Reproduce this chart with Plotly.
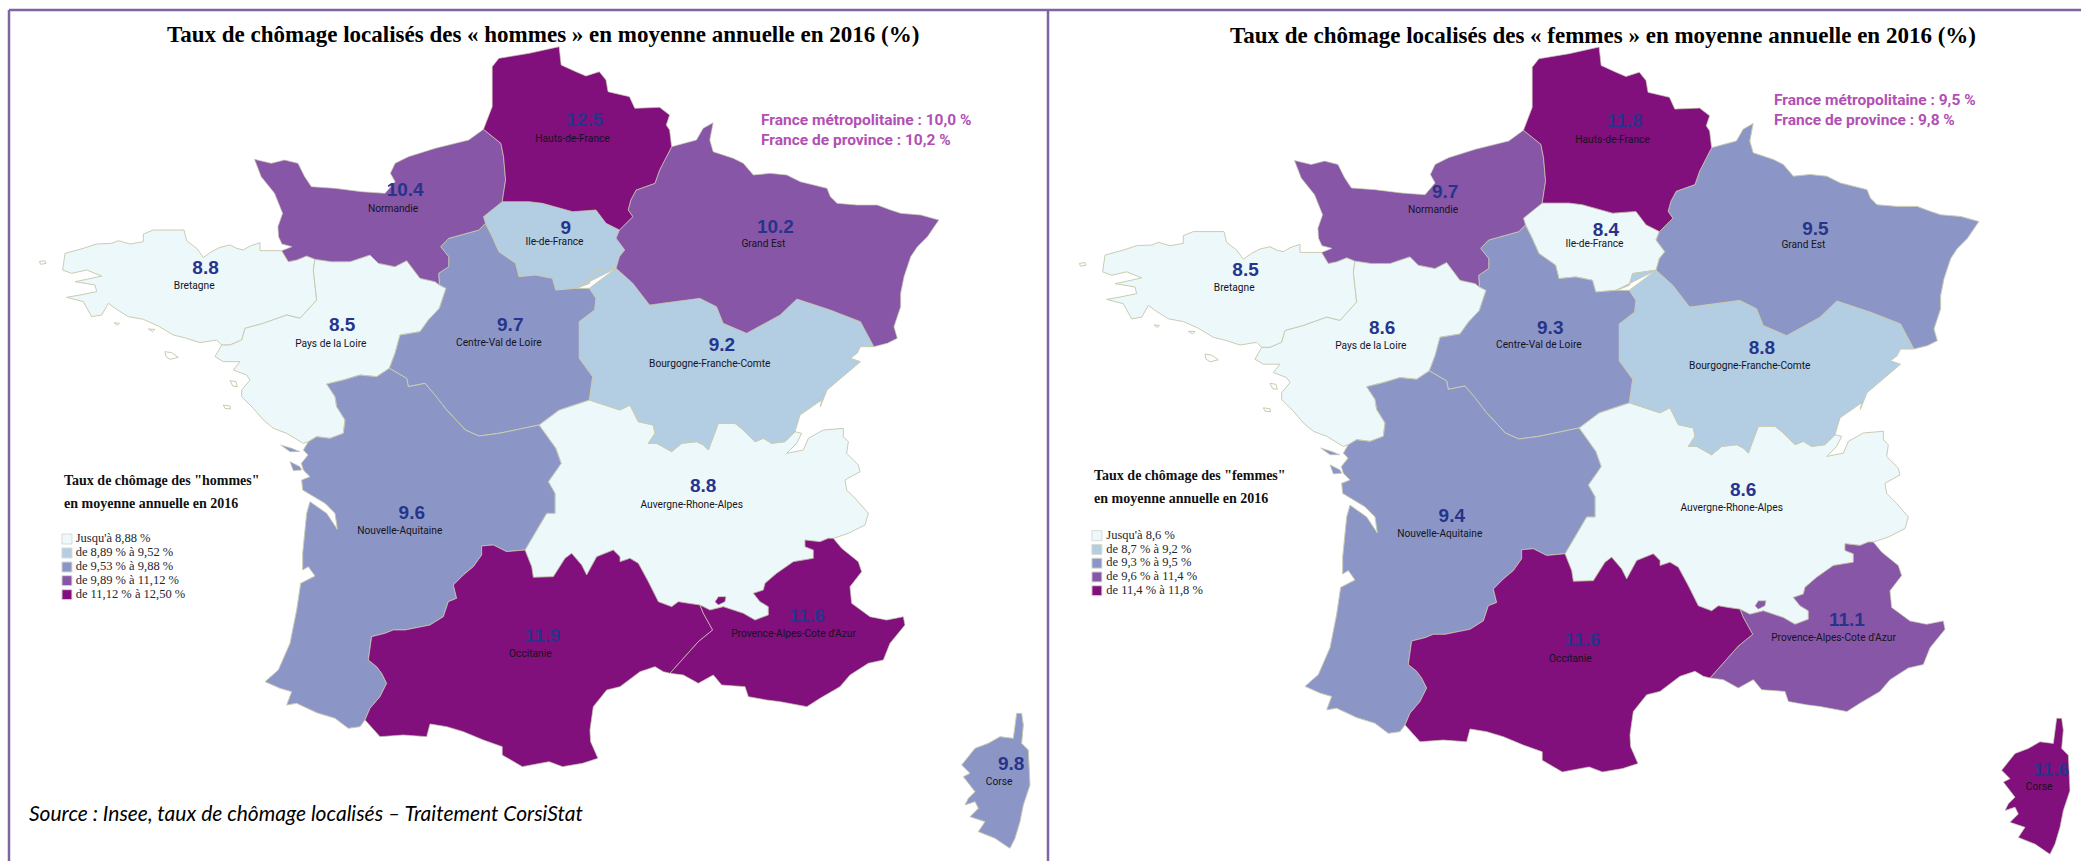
import plotly.graph_objects as go

W, H = 2081, 861
SX, SY = 1568 / 1050, 3.0   # map units per pixel

REGIONS = ["Hauts-de-France", "Normandie", "Ile-de-France", "Grand Est", "Bretagne", "Pays de la Loire",
           "Centre-Val de Loire", "Bourgogne-Franche-Comte", "Nouvelle-Aquitaine", "Auvergne-Rhone-Alpes",
           "Occitanie", "Provence-Alpes-Cote d'Azur", "Corse"]
HOMMES = [12.5, 10.4, 9, 10.2, 8.8, 8.5, 9.7, 9.2, 9.6, 8.8, 11.9, 11.6, 9.8]
FEMMES = [11.8, 9.7, 8.4, 9.5, 8.5, 8.6, 9.3, 8.8, 9.4, 8.6, 11.6, 11.1, 11.6]
HOMMES_CLASS_MAX = [8.88, 9.52, 9.88, 11.12, 12.50]
FEMMES_CLASS_MAX = [8.6, 9.2, 9.5, 11.4, 11.8]
CLASS_COLORS = ["#edf8fb", "#b3cde3", "#8c96c6", "#8856a7", "#810f7c"]
HOMMES_LEGEND = ["Jusqu'à 8,88 %", "de 8,89 % à 9,52 %", "de 9,53 % à 9,88 %", "de 9,89 % à 11,12 %", "de 11,12 % à 12,50 %"]
FEMMES_LEGEND = ["Jusqu'à 8,6 %", "de 8,7 % à 9,2 %", "de 9,3 % à 9,5 %", "de 9,6 % à 11,4 %", "de 11,4 % à 11,8 %"]


def local(pts, ox, oy):
    """Outline traced at 3x around a page origin -> map units."""
    return [((ox + a / 3) * SX, (oy + b / 3) * SY) for a, b in pts]


# ---- shared borders -------------------------------------------------------------
NOR_BRE = local([(755,92),(775,125),(800,120),(830,108),(855,118)], 30, 220)
NOR_PDL = local([(855,118),(905,125),(960,125),(1020,105),(1045,130),(1095,140),(1130,122),(1170,175),(1215,185),(1228,195)], 30, 220)
BRE_COAST = local([(720,92),(690,92),(690,68),(660,78),(640,90),(620,85),(600,75),(570,82),(545,95),(520,112),(500,85),(470,62),(462,30),(435,30),(405,30),(370,30),(340,42),(340,65),(300,72),(265,62),(245,70),(200,72),(160,85),(105,100),(98,150),(125,160),(170,150),(215,168),(170,178),(135,185),(195,195),(200,215),(150,225),(110,232),(160,245),(185,290),(215,285),(235,250),(260,268),(295,290),(340,298),(385,318),(430,345),(470,355),(510,368),(560,360)], 30, 220)
BRE_PDL = local([(575,375),(600,375),(635,360),(645,325),(700,310),(770,285),(810,295),(860,240),(850,150),(855,118)], 30, 220)
PDL_CVL = local([(1228,195),(1248,205),(1228,265),(1195,300),(1170,335),(1110,345),(1095,400),(1078,445)], 30, 220)
PDL_NAQ = local([(1078,445),(1040,470),(990,465),(940,480),(890,492),(915,530),(920,560),(945,600),(940,640),(900,655),(860,650),(835,665)], 30, 220)
PDL_COAST = local([(835,665),(820,670),(770,640),(730,625),(700,600),(670,565),(635,530),(635,510),(660,480),(650,465),(610,450),(630,425),(580,425),(555,410),(575,375)], 30, 220)
CVL_NAQ = local([(1078,445),(1130,475),(1135,500),(1185,490),(1215,525),(1250,570)], 30, 220) + [(695,1290),(715,1308),(745,1300),(770,1290),(805,1275)]
NOR_CVL = [(655,820),(670,800),(670,770),(658,740),(670,715),(715,690),(725,670)]
NAQ_ARA = [(805,1275),(830,1345),(838,1390)] + local([(890,0),(865,35),(885,70),(885,130),(860,130),(825,190),(795,240)], 260, 470)
NAQ_OCC = local([(795,240),(740,245),(700,225),(665,228),(665,255),(640,290),(610,315),(580,345),(590,385),(565,395),(550,440),(510,465),(435,480),(400,480),(375,490),(335,500),(325,570),(350,590),(365,610),(380,640),(360,680),(330,715),(315,750)], 260, 470)
NAQ_COAST = local([(315,750),(300,770),(265,775),(225,745),(170,728),(110,700),(80,705),(95,665),(60,655),(15,635),(55,600),(90,520),(110,420),(122,340),(165,318),(145,290),(128,300),(128,250),(140,130),(150,95),(200,130),(232,178),(225,130),(195,100),(155,75),(128,60),(125,30),(150,20),(130,0)], 260, 470) + [(450,1390),(460,1365),(453,1350)]
OCC_ARA = local([(795,240),(815,290),(820,322),(880,320),(915,265),(935,250),(965,285),(980,315),(1010,260),(1060,240),(1080,260)], 260, 470) + local([(0,485),(30,475),(55,490),(85,545),(115,605),(155,620),(175,605),(205,610),(240,615)], 620, 400)
OCC_PAC = local([(240,615),(250,640),(278,690),(235,725),(200,765),(150,820)], 620, 400)
ARA_BFC = local([(0,30),(30,15),(55,65),(100,75),(105,100),(85,130),(110,130),(155,155),(185,130),(230,125),(250,135),(265,150),(295,70),(345,70),(370,90),(405,125),(430,115),(455,130),(495,125),(525,95)], 620, 400)
ARA_EAST = local([(525,95),(545,100),(530,130),(500,160),(550,150),(565,115),(610,90),(670,85),(670,110),(685,125),(680,160),(715,195),(720,215),(675,240),(680,270),(710,300),(745,340),(735,375),(685,400),(640,415)], 620, 400)
PAC_N = local([(640,415),(625,415),(600,425),(555,420),(555,440),(580,450),(580,475),(520,485),(470,520),(435,550),(430,570),(400,580),(420,605),(445,620),(445,645),(405,660),(370,640),(340,630),(310,620),(270,630),(240,615)], 620, 400)
PAC_S = local([(150,820),(190,825),(235,850),(280,825),(305,855),(375,860),(385,890),(440,900)], 620, 400) + [(1165,2105),(1205,2120)] + local([(600,895),(660,860),(690,825),(745,790),(790,780),(810,730),(855,675),(850,650),(800,660),(750,650),(695,610),(690,560),(725,515),(715,485),(665,445)], 620, 400)
OCC_SOUTH = local([(150,820),(130,815),(105,800),(60,815),(0,860)], 620, 400) + [(906,2070),(886,2120),(881,2190),(882,2225),(893,2275),(870,2290),(840,2300),(820,2285),(780,2300),(750,2265),(750,2240)] + local([(670,810),(610,785),(560,770),(510,762),(500,800),(430,795),(360,800),(315,750)], 260, 470)
CVL_BFC = [(880,865),(890,895),(888,930),(865,965),(865,1075),(885,1130),(880,1200)]
HDF_NOR = [(750,605),(755,540),(752,470),(748,430),(722,388)]
HDF_GES = [(925,690),(945,650),(938,630),(942,600),(950,570),(978,550),(985,510),(1003,440)]
HDF_IDF = [(750,605),(790,605),(810,610),(855,635),(890,630),(905,670),(925,690)]
IDF_NOR = [(750,605),(722,650),(725,670)]
IDF_CVL = [(725,670),(735,710),(745,755),(770,790),(775,830),(800,825),(825,835),(830,870),(860,865)]
IDF_BFC = [(860,865),(880,850),(885,815),(920,805)]
IDF_GES = [(920,805),(925,770),(933,750),(920,715),(925,690)]
GES_BFC = [(920,805),(945,850),(970,915),(1045,895),(1070,920),(1080,970),(1115,1000),(1165,945),(1190,897),(1240,930),(1285,965),(1305,1040)]

# ---- region outlines --------------------------------------------------------------
HDF = [(835,140),(838,195),(860,215),(875,228),(895,215),(905,240),(908,275),(940,290),(948,325),(985,322),(1000,345),(995,375),(1000,390)] + HDF_GES[::-1] + HDF_IDF[::-1] + HDF_NOR + [(735,320),(735,200),(745,175),(790,160)]
NOR = [(722,388),(700,420),(650,445),(610,470),(590,490),(583,520),(590,545),(575,580),(540,575),(500,565),(465,560),(455,530),(445,490),(425,480),(405,490),(380,478),(390,530),(410,580),(422,640),(415,680),(416,710),(421,732),(436,740)] + NOR_BRE + NOR_PDL + NOR_CVL + IDF_NOR[::-1] + HDF_NOR
IDF = HDF_IDF + IDF_GES[::-1] + IDF_BFC[::-1] + IDF_CVL[::-1] + IDF_NOR[::-1]
GES = HDF_GES + [(1040,420),(1050,385),(1065,368),(1060,420),(1065,455),(1095,475),(1110,490),(1125,525),(1150,520),(1175,525),(1195,545),(1235,565),(1240,590),(1250,610),(1280,615),(1310,615),(1330,630),(1345,640),(1375,645),(1402,660),(1385,710),(1370,740),(1360,770),(1350,830),(1345,880),(1345,920),(1335,980),(1340,1015),(1325,1030)] + GES_BFC[::-1] + IDF_GES
BRE = NOR_BRE[::-1] + BRE_COAST + BRE_PDL
PDL = NOR_PDL + PDL_CVL + PDL_NAQ + PDL_COAST + BRE_PDL
CVL = NOR_CVL + IDF_CVL + CVL_BFC + [(835,1230)] + CVL_NAQ[::-1] + PDL_CVL[::-1]
BFC = GES_BFC + [(1285,1040),(1280,1060),(1270,1075),(1285,1085),(1235,1170),(1225,1220)] + local([(605,0),(540,45)], 620, 400) + ARA_BFC[::-1] + [(880,1200)] + CVL_BFC[::-1] + IDF_BFC[::-1]
NAQ = CVL_NAQ + NAQ_ARA + NAQ_OCC + NAQ_COAST + PDL_NAQ[::-1]
ARA = [(805,1275),(835,1230),(880,1200)] + ARA_BFC + ARA_EAST + PAC_N + OCC_ARA[::-1] + NAQ_ARA[::-1]
OCC = OCC_ARA + OCC_PAC + OCC_SOUTH + NAQ_OCC[::-1]
PAC = PAC_N + OCC_PAC + PAC_S
COR = local([(290,115),(305,115),(310,150),(305,205),(325,225),(330,330),(310,390),(300,440),(285,490),(270,520),(262,515),(225,490),(175,470),(195,440),(150,425),(175,400),(165,380),(135,390),(145,370),(165,350),(130,305),(150,295),(125,270),(150,240),(165,220),(205,205),(240,185),(280,190),(285,150)], 920, 675)
OUTLINES = [HDF, NOR, IDF, GES, BRE, PDL, CVL, BFC, NAQ, ARA, OCC, PAC, COR]
ENCLAVE = local([(285,605),(295,590),(318,590),(315,605),(295,615)], 620, 400)   # enclave coloured as PACA
NAQ_ISLES = [local([(752,675),(785,685),(810,695),(780,695)], 30, 220), local([(780,725),(810,740),(815,750),(790,752)], 30, 220)]
OCEAN_ISLES = [local(p, 30, 220) for p in ([(28,125),(45,122),(48,130),(32,133)], [(252,308),(268,310),(262,316)], [(355,327),(375,328),(368,335)],
                                           [(405,395),(425,398),(445,412),(420,418),(408,410)], [(600,482),(618,485),(622,500),(608,498)], [(580,555),(600,558),(602,567),(585,565)])]

VALUE_POS = [(873,365),(605,575),(845,688),(1158,685),(307,807),(511,980),(762,980),(1078,1040),(615,1542),(1050,1463),(810,1912),(1205,1852),(1510,2297)]
NAME_POS = [(855,417),(587,627),(828,728),(1140,732),(290,858),(494,1032),(745,1030),(1060,1092),(597,1593),(1033,1516),(792,1964),(1185,1902),(1492,2347)]

FRAME = "#8064a2"
COAST = "#c9ccb2"


def class_of(v, maxes):
    for i, m in enumerate(maxes):
        if v <= m:
            return i
    return len(maxes) - 1


def xy(pts):
    return [p[0] for p in pts] + [pts[0][0]], [p[1] for p in pts] + [pts[0][1]]


def panel(fig, values, maxes, xa, ya, legend_labels, legend_x, legend_text_x, legend_y):
    classes = [class_of(v, maxes) for v in values]

    def poly(pts, c, line, width):
        x, y = xy(pts)
        fig.add_trace(go.Scatter(x=x, y=y, mode="lines", fill="toself", fillcolor=c,
                                 line=dict(color=line, width=width),
                                 xaxis=xa, yaxis=ya, hoverinfo="skip", showlegend=False))

    for i in sorted(range(len(values)), key=lambda i: classes[i]):
        poly(OUTLINES[i], CLASS_COLORS[classes[i]], COAST, 1 if classes[i] <= 2 else 0.7)
    poly(ENCLAVE, CLASS_COLORS[classes[11]], COAST, 0.7)
    for isl in NAQ_ISLES:
        poly(isl, CLASS_COLORS[classes[8]], COAST, 0.7)
    for isl in OCEAN_ISLES:
        poly(isl, "#ffffff", COAST, 1)
    fig.add_trace(go.Scatter(x=[p[0] for p in VALUE_POS], y=[p[1] for p in VALUE_POS], mode="text",
                             text=[str(v) for v in values],
                             textfont=dict(family="Liberation Sans", size=19, color="#27348b", weight="bold"),
                             xaxis=xa, yaxis=ya, hoverinfo="skip", showlegend=False))
    fig.add_trace(go.Scatter(x=[p[0] for p in NAME_POS], y=[p[1] for p in NAME_POS], mode="text",
                             text=REGIONS,
                             textfont=dict(family="Roboto", size=10.2, color="#14141e"),
                             xaxis=xa, yaxis=ya, hoverinfo="skip", showlegend=False))
    fig.add_trace(go.Scatter(x=[legend_x] * 5, y=legend_y, mode="markers",
                             marker=dict(symbol="square", size=10, color=CLASS_COLORS,
                                         line=dict(color="#d6dbd6", width=1)),
                             xaxis=xa, yaxis=ya, hoverinfo="skip", showlegend=False))
    fig.add_trace(go.Scatter(x=[legend_text_x] * 5, y=legend_y, mode="text", text=legend_labels,
                             textposition="middle right",
                             textfont=dict(family="Liberation Serif", size=12.5, color="#26262e"),
                             xaxis=xa, yaxis=ya, hoverinfo="skip", showlegend=False))


fig = go.Figure()
panel(fig, HOMMES, HOMMES_CLASS_MAX, "x", "y", HOMMES_LEGEND, 100, 113, [1617, 1659, 1701, 1742, 1784])
panel(fig, FEMMES, FEMMES_CLASS_MAX, "x2", "y2", FEMMES_LEGEND, 85, 99, [1596, 1637, 1678, 1719, 1760])

axis = dict(showgrid=False, zeroline=False, showticklabels=False, ticks="", showline=False)
fig.update_layout(
    width=W, height=H, paper_bgcolor="white", plot_bgcolor="white",
    margin=dict(l=0, r=0, t=0, b=0), showlegend=False,
    xaxis=dict(domain=[0, 1047 / W], range=[0, 1047 * SX], **axis),
    yaxis=dict(domain=[0, 1], range=[H * SY, 0], **axis),
    xaxis2=dict(domain=[1049 / W, 2070 / W], range=[9 * SX, 1030 * SX], **axis),
    yaxis2=dict(domain=[0, 1], range=[H * SY / 1.0069, 0], **axis),
)


def note(text, px, py, size, family, color="#000000", anchor="left", bold=False, italic=False):
    fig.add_annotation(text=text, x=px / W, y=1 - py / H, xref="paper", yref="paper",
                       xanchor=anchor, yanchor="middle", showarrow=False,
                       font=dict(size=size, family=family, color=color,
                                 weight="bold" if bold else "normal",
                                 style="italic" if italic else "normal"))


SERIF = "Liberation Serif"
NARROW = "Roboto"
note("Taux de chômage localisés des « hommes » en moyenne annuelle en 2016 (%)", 543, 34, 23, SERIF, "#000", "center", True)
note("Taux de chômage localisés des « femmes » en moyenne annuelle en 2016 (%)", 1603, 35, 23, SERIF, "#000", "center", True)
note("France métropolitaine : 10,0 %", 759, 120, 15.5, NARROW, "#b24fb4", "left", True)
note("France de province : 10,2 %", 759, 140, 15.5, NARROW, "#b24fb4", "left", True)
note("France métropolitaine : 9,5 %", 1772, 100, 15.5, NARROW, "#b24fb4", "left", True)
note("France de province : 9,8 %", 1772, 120, 15.5, NARROW, "#b24fb4", "left", True)
note('Taux de chômage des "hommes"', 62, 480, 14, SERIF, "#111", "left", True)
note("en moyenne annuelle en 2016", 62, 503, 14, SERIF, "#111", "left", True)
note('Taux de chômage des "femmes"', 1092, 475, 14, SERIF, "#111", "left", True)
note("en moyenne annuelle en 2016", 1092, 498, 14, SERIF, "#111", "left", True)
note("Source : Insee, taux de chômage localisés – Traitement CorsiStat", 27, 812, 21, "Lato", "#000", "left", False, True)

for s in [dict(x0=9 / W, x1=1, y0=1 - 10 / H, y1=1 - 10 / H),
          dict(x0=9 / W, x1=9 / W, y0=0, y1=1 - 10 / H),
          dict(x0=1048 / W, x1=1048 / W, y0=0, y1=1 - 10 / H)]:
    fig.add_shape(type="line", xref="paper", yref="paper", line=dict(color=FRAME, width=2.5), **s)

fig.write_html("out.html", config={"displayModeBar": False},
               post_script="document.body.style.margin='0';document.body.style.overflow='hidden';")
